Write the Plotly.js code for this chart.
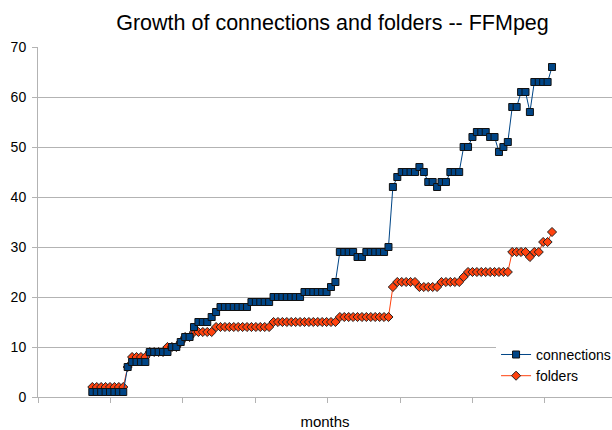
<!DOCTYPE html>
<html>
<head>
<meta charset="utf-8">
<script src="https://cdn.plot.ly/plotly-3.0.1.min.js"></script>
<style>
  html, body { margin: 0; padding: 0; background: #ffffff; overflow: hidden; }
  #chart { width: 612px; height: 430px; }
</style>
</head>
<body>
<div id="chart"></div>
<script>
// Monthly counts
const connections = [
  1, 1, 1, 1, 1, 1, 1, 1,
  6,
  7, 7, 7, 7,
  9, 9, 9, 9, 9,
  10, 10,
  11,
  12, 12,
  14,
  15, 15, 15,
  16,
  17,
  18, 18, 18, 18, 18, 18, 18,
  19, 19, 19, 19, 19,
  20, 20, 20, 20, 20, 20, 20,
  21, 21, 21, 21, 21, 21,
  22,
  23,
  29, 29, 29, 29,
  28, 28,
  29, 29, 29, 29, 29,
  30,
  42,
  44,
  45, 45, 45, 45,
  46,
  45,
  43, 43,
  42,
  43, 43,
  45, 45, 45,
  50, 50,
  52,
  53, 53, 53,
  52, 52,
  49,
  50,
  51,
  58, 58,
  61, 61,
  57,
  63, 63, 63, 63,
  66
];

const folders = [
  2, 2, 2, 2, 2, 2, 2, 2,
  6,
  8, 8, 8, 8,
  9, 9, 9, 9,
  10, 10, 10,
  11,
  12, 12,
  13, 13, 13, 13, 13,
  14, 14, 14, 14, 14, 14, 14, 14, 14, 14, 14, 14, 14,
  15, 15, 15, 15, 15, 15, 15, 15, 15, 15, 15, 15, 15, 15, 15,
  16, 16, 16, 16, 16, 16, 16, 16, 16, 16, 16, 16,
  22,
  23, 23, 23, 23, 23,
  22, 22, 22, 22, 22,
  23, 23, 23, 23, 23,
  24,
  25, 25, 25, 25, 25, 25, 25, 25, 25, 25,
  29, 29, 29, 29,
  28,
  29, 29,
  31, 31,
  33
];

const seriesNames = ["connections", "folders"];
const chartTitle = "Growth of connections and folders -- FFMpeg";
const xAxisTitle = "months";
const yTicks = [0, 10, 20, 30, 40, 50, 60, 70];

const monthIndex = connections.map((_, i) => i);

const FONT = "Liberation Sans, Arial, sans-serif";
const BLUE = "#004586";
const ORANGE = "#ff420e";
const GRID = "#b3b3b3";

// x-axis tick marks (no labels), one every 16.38 month slots from the axis origin
const X_MIN = -12.29, X_MAX = 117.57, X_TICK_STEP = 16.38;
const xTickVals = [];
for (let v = X_MIN; v < X_MAX; v += X_TICK_STEP) xTickVals.push(v);

const traces = [
  {
    x: monthIndex,
    y: folders,
    name: seriesNames[1],
    type: "scatter",
    mode: "lines+markers",
    line: { color: ORANGE, width: 1 },
    marker: { symbol: "diamond", size: 7, color: ORANGE, line: { color: "#222222", width: 1 } }
  },
  {
    x: monthIndex,
    y: connections,
    name: seriesNames[0],
    type: "scatter",
    mode: "lines+markers",
    line: { color: BLUE, width: 1 },
    marker: { symbol: "square", size: 7, color: BLUE, line: { color: "#111111", width: 1 } }
  }
];

const layout = {
  width: 612,
  height: 430,
  paper_bgcolor: "#ffffff",
  plot_bgcolor: "#ffffff",
  margin: { l: 38, r: 0, t: 47, b: 33, pad: 0, autoexpand: false },
  font: { family: FONT, color: "#000000", size: 14 },
  title: {
    text: chartTitle,
    font: { family: FONT, size: 21.5, color: "#000000" },
    xref: "container",
    yref: "container",
    x: 332.5 / 612,
    xanchor: "center",
    y: 1 - 22 / 430,
    yanchor: "middle"
  },
  showlegend: true,
  legend: {
    x: 0.798,
    xanchor: "left",
    y: 0.166,
    yanchor: "top",
    bgcolor: "#ffffff",
    borderwidth: 0,
    traceorder: "reversed",
    itemwidth: 30,
    font: { family: FONT, size: 14, color: "#000000" }
  },
  xaxis: {
    range: [X_MIN, X_MAX],
    showgrid: false,
    zeroline: false,
    showline: true,
    linecolor: GRID,
    linewidth: 1,
    ticks: "outside",
    ticklen: 5,
    tickcolor: GRID,
    tickmode: "array",
    tickvals: xTickVals,
    ticktext: xTickVals.map(() => ""),
    showticklabels: false,
    title: { text: xAxisTitle, font: { family: FONT, size: 15, color: "#000000" }, standoff: 19 }
  },
  yaxis: {
    range: [0, 70],
    tickmode: "array",
    tickvals: yTicks,
    ticktext: yTicks.map(String),
    showgrid: true,
    gridcolor: GRID,
    gridwidth: 1,
    zeroline: false,
    showline: true,
    linecolor: GRID,
    linewidth: 1,
    ticks: "outside",
    ticklen: 5,
    tickcolor: GRID,
    ticklabelstandoff: 3,
    tickfont: { family: FONT, size: 14, color: "#000000" }
  }
};

Plotly.newPlot("chart", traces, layout, { staticPlot: true, displayModeBar: false });
</script>
</body>
</html>
